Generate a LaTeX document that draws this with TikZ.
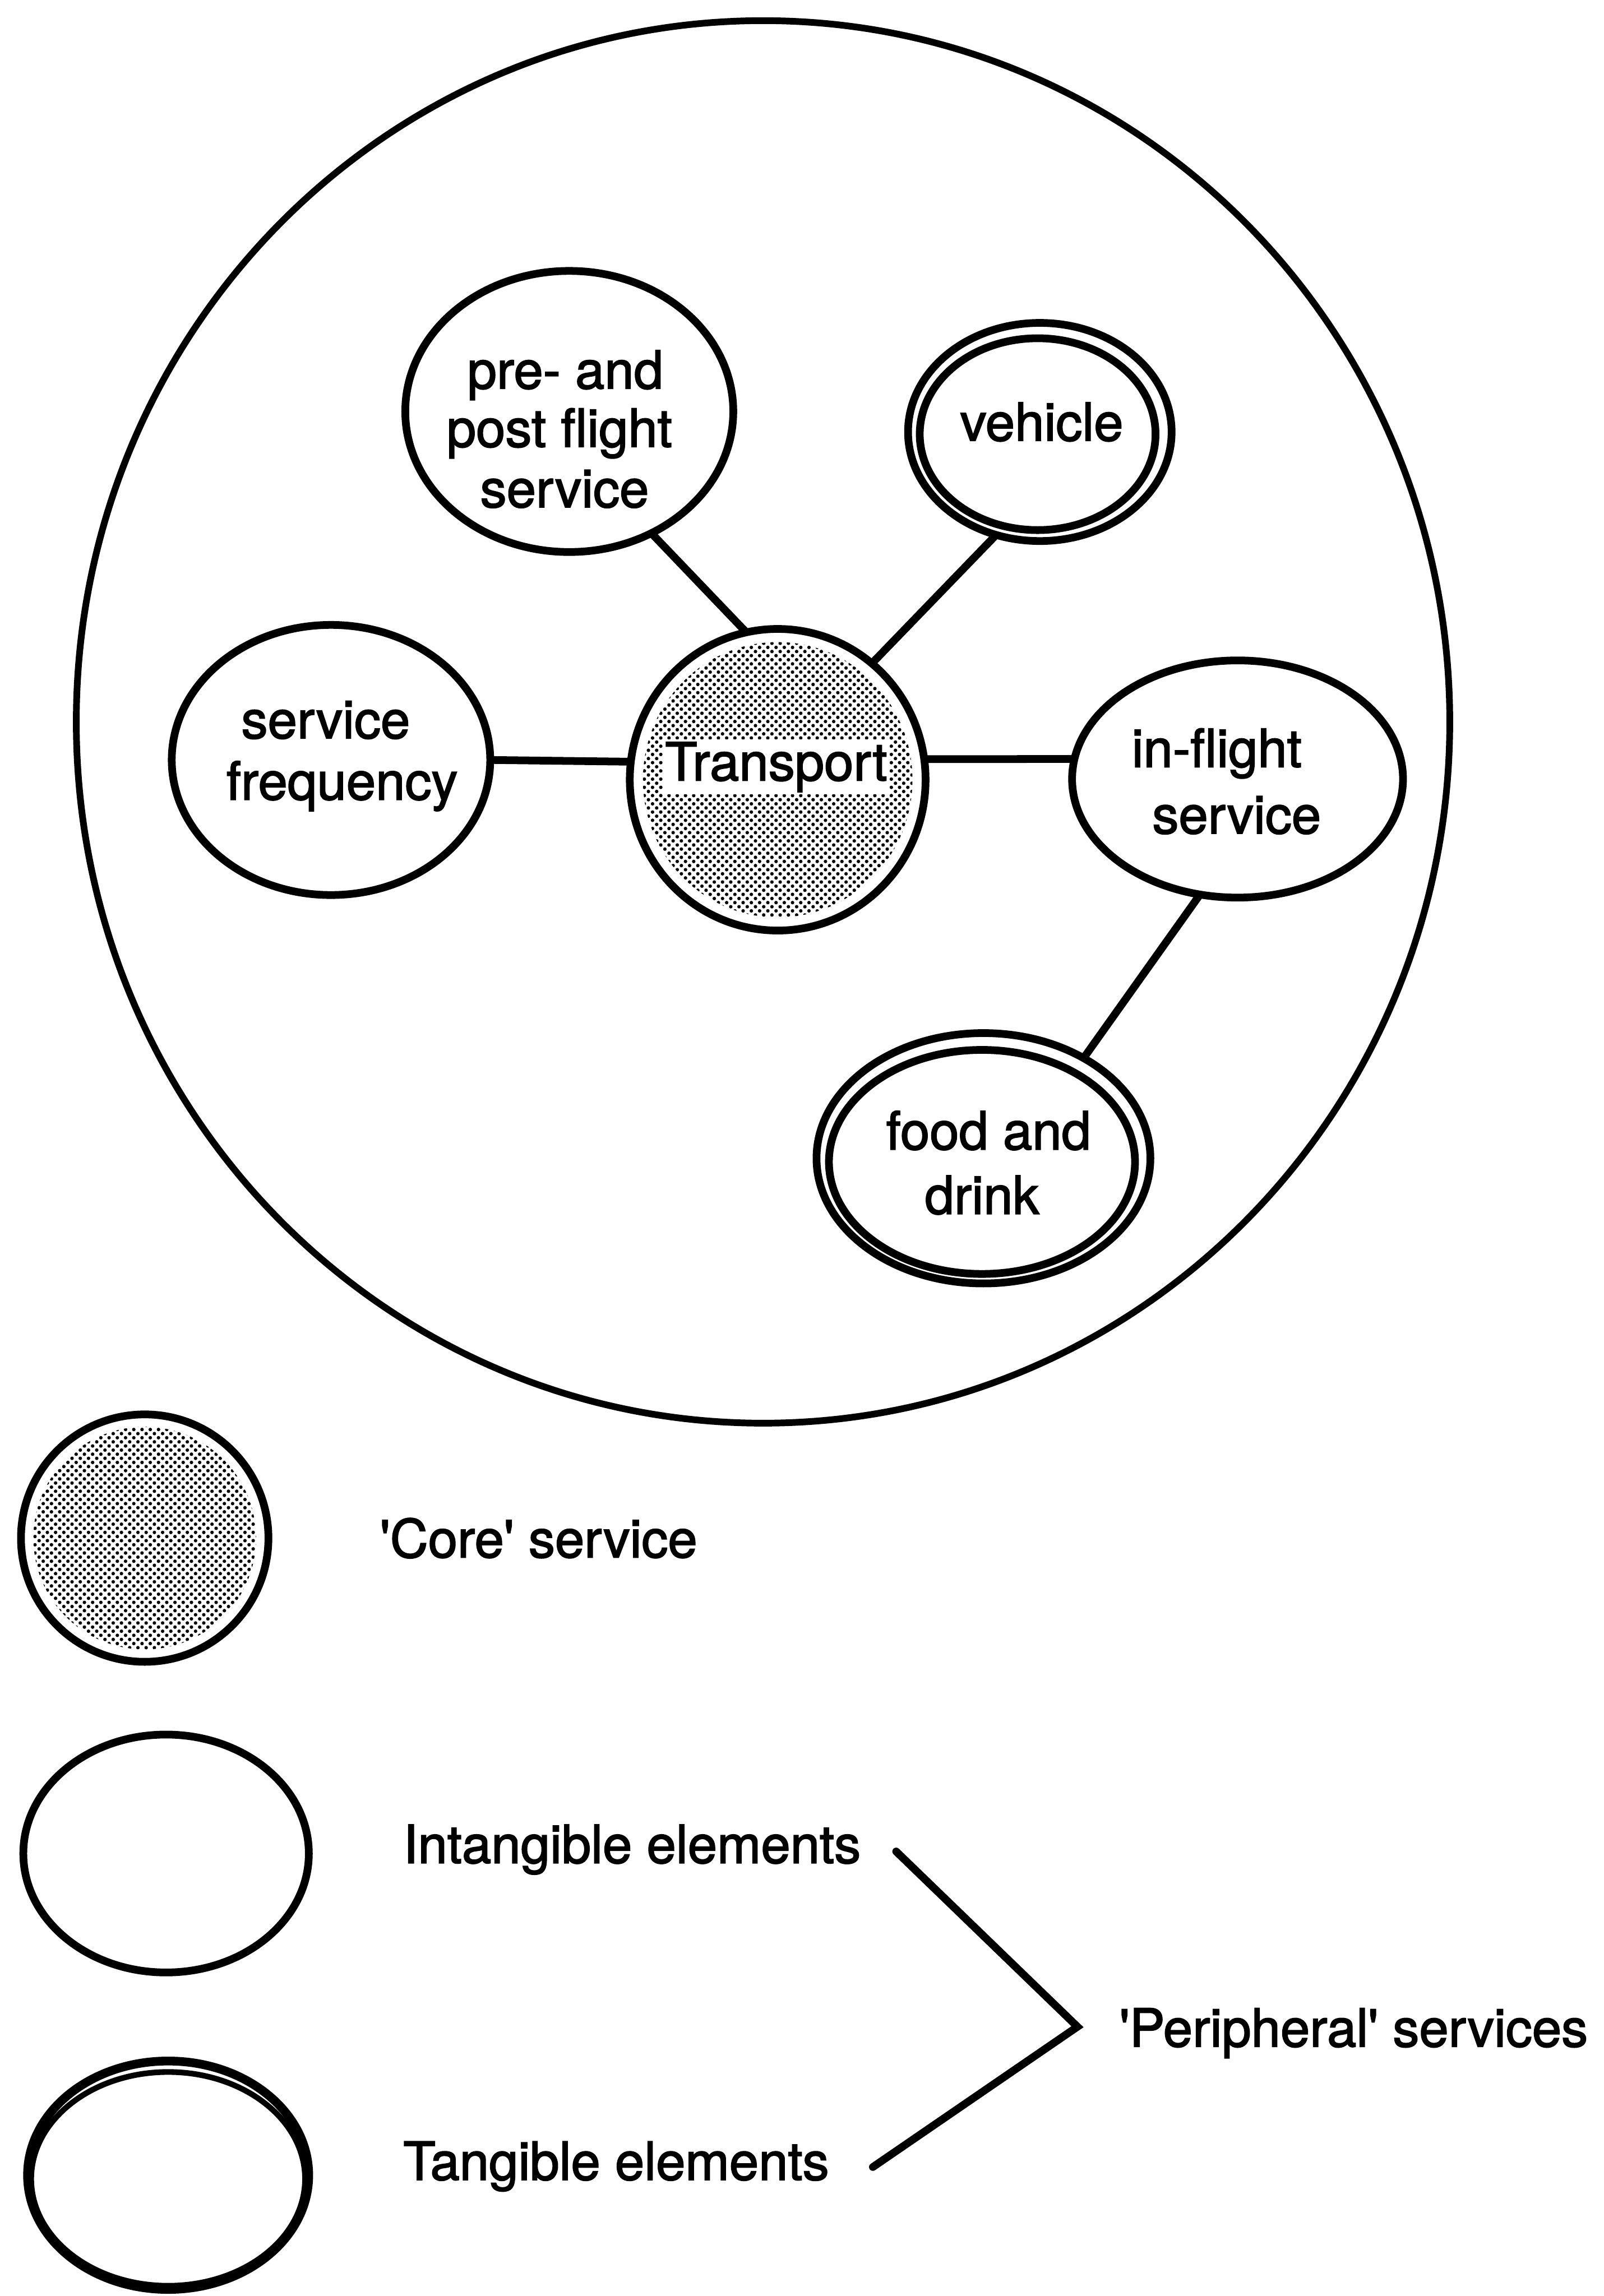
\documentclass[tikz,border=0pt]{standalone}
\usepackage{fontspec}
\newfontfamily\hv{TeX Gyre Heros}[FakeBold=2]
\usetikzlibrary{shapes.geometric,patterns}

% halftone stipple used for the core service
\pgfdeclarepatternformonly{stipple}{\pgfpoint{-0.1pt}{-0.1pt}}{\pgfpoint{3.3pt}{3.3pt}}{\pgfpoint{3.2pt}{3.2pt}}{%
  \pgfpathcircle{\pgfpoint{0.8pt}{0.8pt}}{0.68pt}%
  \pgfpathcircle{\pgfpoint{2.4pt}{2.4pt}}{0.68pt}%
  \pgfusepath{fill}}

\begin{document}
\begin{tikzpicture}[x=0.02cm, y=-0.02cm,
  every node/.style={inner sep=0pt, outer sep=0pt},
  frame/.style={draw, ellipse, line width=2.6pt},
  svc/.style={draw, ellipse, line width=3pt},
  ring/.style={line width=3pt},
  thinring/.style={line width=2.2pt},
  dots/.style={pattern=stipple},
  link/.style={line width=3pt},
  bracket/.style={line width=3pt, line cap=round},
  txt/.style={anchor=base, font=\hv\fontsize{20.5}{24}\selectfont},
  ltxt/.style={anchor=base west, font=\hv\fontsize{20.5}{24}\selectfont}]

\useasboundingbox (0,0) rectangle (1095,1568);

% ---- the service system ----
\node[frame, minimum width=18.76cm, minimum height=19.16cm] (system) at (521,493) {};

% core service
\node[svc, minimum width=4.04cm, minimum height=4.12cm] (trans) at (531,532.5) {};
\fill[dots] (trans.center) ellipse [x radius=92, y radius=94];
\node[txt, fill=white, inner sep=1pt] (transT) at (530,533) {Transport};

% peripheral services
\node[svc, minimum width=4.48cm, minimum height=3.84cm] (pre) at (388.7,281) {};
\node[txt] (preA) at (386,265.4) {pre- and};
\node[txt] (preB) at (382,305.2) {post flight};
\node[txt] (preC) at (385.5,346.4) {service};

\node[svc, minimum width=3.6cm, minimum height=2.98cm] (veh) at (710,295) {};
\draw[ring] (veh.center) ++(-1.5,1.5) ellipse [x radius=80.5, y radius=65.5];
\node[txt] (vehT) at (711.3,301) {vehicle};

\node[svc, minimum width=4.35cm, minimum height=3.69cm] (freq) at (226,519) {};
\node[txt] (freqA) at (222.4,504.2) {service};
\node[txt] (freqB) at (233.6,546.1) {frequency};

\node[svc, minimum width=4.52cm, minimum height=3.24cm] (infl) at (845,532) {};
\node[txt] (inflA) at (830.8,523.8) {in-flight};
\node[txt] (inflB) at (844.4,569.2) {service};

\node[svc, minimum width=4.56cm, minimum height=3.42cm] (food) at (671.5,791) {};
\draw[ring] (food.center) ++(-1,2.5) ellipse [x radius=104.5, y radius=76.5];
\node[txt] (foodA) at (675,785) {food and};
\node[txt] (foodB) at (670.5,829) {drink};

% links to the core
\draw[link] (pre.-56) -- (trans.102);
\draw[link] (veh.247) -- (trans.51);
\draw[link] (freq.east) -- (trans.173);
\draw[link] (trans.8) -- (infl.173);
\draw[link] (infl.252) -- (food.45);

% ---- key ----
\node[svc, minimum width=3.38cm, minimum height=3.38cm] (keyCore) at (98.8,1050.4) {};
\fill[dots] (keyCore.center) ellipse [x radius=76, y radius=76];
\node[ltxt] (keyCoreT) at (259.5,1063.6) {'Core' service};

\node[svc, minimum width=3.9cm, minimum height=3.25cm] (keyInt) at (113.4,1265.8) {};
\node[ltxt] (keyIntT) at (275.4,1272.3) {Intangible elements};

\node[svc, line width=3.4pt, minimum width=3.84cm, minimum height=3.12cm] (keyTan) at (114.8,1485.5) {};
\draw[thinring] (keyTan.center) ++(0,2.5) ellipse [x radius=93.5, y radius=73];
\node[ltxt] (keyTanT) at (275.4,1488.7) {Tangible elements};

\node[ltxt] (periT) at (764.4,1397.7) {'Peripheral' services};

\coordinate (brTop) at (611.9,1264.4);
\coordinate (brTip) at (735.7,1384.1);
\coordinate (brBot) at (596,1479.9);
\draw[bracket] (brTop) -- (brTip) -- (brBot);

\end{tikzpicture}
\end{document}
